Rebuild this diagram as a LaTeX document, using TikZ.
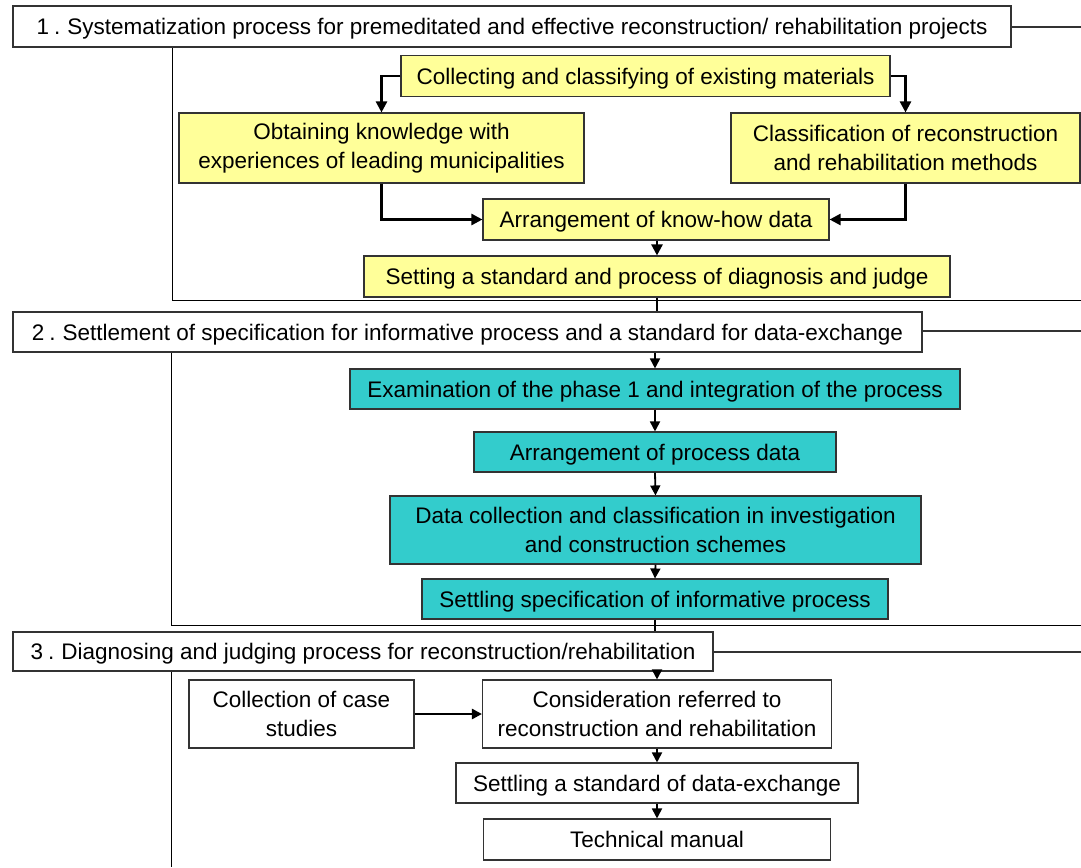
\documentclass[tikz,border=0pt]{standalone}
\usepackage{fontspec}
\setmainfont{Liberation Sans}
\usetikzlibrary{arrows.meta}
\definecolor{boxyellow}{RGB}{255,255,153}
\definecolor{boxcyan}{RGB}{51,204,204}
\definecolor{edgegray}{RGB}{51,51,51}
\newcommand{\secnum}[1]{#1\kern5pt.\kern7pt}
\begin{document}
\begin{tikzpicture}[x=1pt,y=-1pt,
  base/.style={draw=edgegray,line width=1.1pt,inner sep=0pt,align=center,
    font=\fontsize{22.5}{29}\selectfont},
  one/.style={text height=16.1pt,text depth=0pt},
  hdr/.style={base,one,fill=white},
  ybox/.style={base,fill=boxyellow},
  cbox/.style={base,fill=boxcyan},
  wbox/.style={base,fill=white},
  arrA/.style={line width=2.4pt,-{Triangle[length=11pt,width=11pt]}},
  arrB/.style={line width=1.8pt,-{Triangle[length=10pt,width=10pt]}},
  arrC/.style={line width=2.8pt,-{Triangle[length=10pt,width=10pt]}},
  link/.style={line width=2pt},
  frame/.style={line width=1pt,black},
  side/.style={line width=1.1pt,edgegray}]
\useasboundingbox (0,0) rectangle (1081,867);
\fill[white] (0,0) rectangle (1081,867);

% coordinates for frames and side lines
\coordinate (r1) at (1081,27);
\coordinate (r2) at (1081,331);
\coordinate (r3) at (1081,652);
\coordinate (f1a) at (172,47);
\coordinate (f1b) at (172,300);
\coordinate (f1c) at (1081,300);
\coordinate (f2a) at (171,352);
\coordinate (f2b) at (171,625);
\coordinate (f2c) at (1081,625);
\coordinate (f3a) at (171,671);
\coordinate (f3b) at (171,867);

% section frames (drawn first, behind boxes)
\draw[frame] (f1a) -- (f1b) -- (f1c);
\draw[frame] (f2a) -- (f2b) -- (f2c);
\draw[frame] (f3a) -- (f3b);

% headers
\node[hdr,minimum width=998pt,minimum height=41pt] (h1) at (512,26.5)
  {\secnum{1}Systematization process for premeditated and effective reconstruction/ rehabilitation projects};
\node[hdr,minimum width=909pt,minimum height=40pt] (h2) at (467.5,332)
  {\secnum{2}Settlement of specification for informative process and a standard for data-exchange};
\node[hdr,minimum width=700pt,minimum height=39pt] (h3) at (363,651.5)
  {\secnum{3}Diagnosing and judging process for reconstruction/rehabilitation};

\draw[side] (h1.east |- r1) -- (r1);
\draw[side] (h2.east |- r2) -- (r2);
\draw[side] (h3.east |- r3) -- (r3);

% section 1
\node[ybox,one,minimum width=489pt,minimum height=41pt] (coll) at (645.5,76)
  {Collecting and classifying of existing materials};
\node[ybox,minimum width=405pt,minimum height=70pt] (obt) at (381.5,148)
  {Obtaining knowledge with\\experiences of leading municipalities};
\node[ybox,minimum width=349pt,minimum height=70pt] (cls) at (905.5,148)
  {Classification of reconstruction\\and rehabilitation methods};
\node[ybox,one,minimum width=346pt,minimum height=41pt] (kh) at (656,219.5)
  {Arrangement of know-how data};
\node[ybox,one,minimum width=586pt,minimum height=41pt] (set) at (657,276.5)
  {Setting a standard and process of diagnosis and judge};

\draw[arrA] (coll.west) -| (obt.north);
\draw[arrA] (coll.east) -| (cls.north);
\draw[arrA] (obt.south) |- (kh.west);
\draw[arrA] (cls.south) |- (kh.east);
\draw[arrA] (kh.south -| set.north) -- (set.north);

% section 2
\node[cbox,one,minimum width=610pt,minimum height=40pt] (exam) at (655,389)
  {Examination of the phase 1 and integration of the process};
\node[cbox,one,minimum width=362pt,minimum height=40pt] (apd) at (655,452)
  {Arrangement of process data};
\node[cbox,minimum width=531pt,minimum height=68pt] (dc) at (655.5,530)
  {Data collection and classification in investigation\\and construction schemes};
\node[cbox,one,minimum width=466pt,minimum height=40pt] (ss) at (655,599)
  {Settling specification of informative process};

\draw[link] (set.south) -- (set.south |- h2.north);
\draw[arrB] (exam.north |- h2.south) -- (exam.north);
\draw[arrB] (exam.south) -- (apd.north);
\draw[arrB] (apd.south) -- (dc.north);
\draw[arrB] (dc.south) -- (ss.north);

% section 3
\node[wbox,minimum width=225pt,minimum height=68pt] (cs) at (301.5,714)
  {Collection of case\\studies};
\node[wbox,minimum width=349pt,minimum height=68pt] (cons) at (657,714)
  {Consideration referred to\\reconstruction and rehabilitation};
\node[wbox,one,minimum width=402pt,minimum height=40pt] (sde) at (657,783)
  {Settling a standard of data-exchange};
\node[wbox,one,minimum width=347pt,minimum height=41pt] (tm) at (657,839.5)
  {Technical manual};

\draw[link] (ss.south) -- (ss.south |- h3.north);
\draw[arrB] (cons.north |- h3.south) -- (cons.north);
\draw[arrC] (cs.east) -- (cons.west);
\draw[arrB] (cons.south) -- (sde.north);
\draw[arrB] (sde.south) -- (tm.north);
\end{tikzpicture}
\end{document}
